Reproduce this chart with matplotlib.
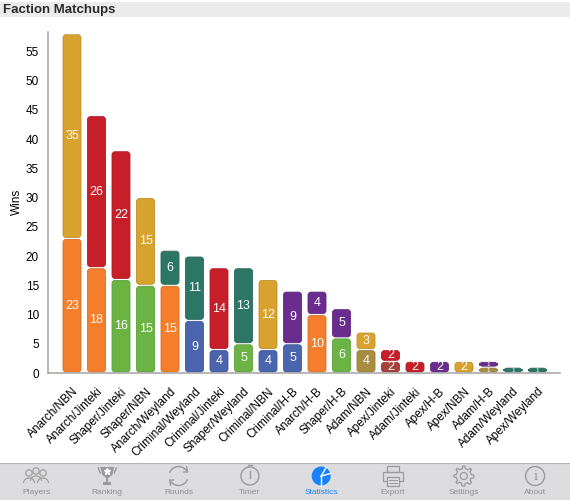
import numpy as np
import matplotlib.pyplot as plt
from matplotlib.patches import FancyBboxPatch, Rectangle, Circle, Arc, Polygon
import matplotlib.colors as mcolors

plt.rcParams['font.family'] = ['Liberation Sans', 'DejaVu Sans']

# Chart data
matchups = ["Anarch/NBN", "Anarch/Jinteki", "Shaper/Jinteki", "Shaper/NBN",
            "Anarch/Weyland", "Criminal/Weyland", "Criminal/Jinteki", "Shaper/Weyland",
            "Criminal/NBN", "Criminal/H-B", "Anarch/H-B", "Shaper/H-B", "Adam/NBN",
            "Apex/Jinteki", "Adam/Jinteki", "Apex/H-B", "Apex/NBN", "Adam/H-B",
            "Adam/Weyland", "Apex/Weyland"]
runner_wins = [23, 18, 16, 15, 15, 9, 4, 5, 4, 5, 10, 6, 4, 2, 0, 0, 0, 1, 0, 0]
corp_wins = [35, 26, 22, 15, 6, 11, 14, 13, 12, 9, 4, 5, 3, 2, 2, 2, 2, 1, 1, 1]
yticks = list(range(0, 56, 5))

faction_colors = {
    "Anarch": "#f47e2b", "Shaper": "#6bb444", "Criminal": "#4a64ae",
    "Adam": "#a88c3f", "Apex": "#a7413d",
    "NBN": "#d8a22f", "Jinteki": "#c61f2a", "Weyland": "#2b7664", "H-B": "#6a2c8e",
}

tabs = ["Players", "Ranking", "Rounds", "Timer", "Statistics", "Export", "Settings", "About"]

W, H = 570, 500
fig = plt.figure(figsize=(W / 100, H / 100), dpi=100)

# background overlay in pixel coordinates
ov = fig.add_axes([0, 0, 1, 1], zorder=-1)
ov.set_xlim(0, W)
ov.set_ylim(H, 0)
ov.axis('off')
ov.add_patch(Rectangle((0, 2), W, 15, fc='#ebebeb', ec='none'))
ov.text(3, 10, "Faction Matchups", fontsize=9.5, fontweight='bold', color='#2a2a2a',
        va='center', ha='left')
ov.add_patch(Rectangle((0, 463), W, 37, fc='#dcdcde', ec='none'))
ov.plot([0, W], [463, 463], color='#b5b5b5', lw=0.8)

# main chart
left, right, top, base = 48, 560, 32, 373
ax = fig.add_axes([left / W, (H - base) / H, (right - left) / W, (base - top) / H])
ax.set_facecolor('none')
pitch = 24.5
ax.set_xlim(-24 / pitch, (right - left - 24) / pitch)
ylim_top = 58.3
ax.set_ylim(0, ylim_top)

px_x = pitch
px_y = (base - top) / ylim_top
bw = 18 / pitch
r = 3 / pitch
gap = 0.17

for i, name in enumerate(matchups):
    runner, corp = name.split('/')
    y0 = 0
    for val, fac in [(runner_wins[i], runner), (corp_wins[i], corp)]:
        if val > 0:
            col = faction_colors[fac]
            edge = tuple(c * 0.88 for c in mcolors.to_rgb(col))
            p = FancyBboxPatch((i - bw / 2, y0 + gap), bw, val - 2 * gap,
                               boxstyle=f"round,pad=0,rounding_size={r}",
                               mutation_aspect=px_x / px_y,
                               fc=col, ec=edge, lw=0.6)
            ax.add_patch(p)
            ax.text(i, y0 + val / 2, str(val), color='white',
                    fontsize=9 if val > 1 else 4.5,
                    ha='center', va='center')
            y0 += val

ax.set_yticks(yticks)
ax.set_xticks(range(len(matchups)))
ax.set_xticklabels(matchups, rotation=45, ha='right', rotation_mode='anchor', fontsize=8.5)
ax.tick_params(axis='x', length=0, pad=9)
ax.tick_params(axis='y', length=0, pad=6.5, labelsize=8.5)
for s in ['top', 'right']:
    ax.spines[s].set_visible(False)
for s in ['left', 'bottom']:
    ax.spines[s].set_color('#aaaaaa')
    ax.spines[s].set_linewidth(1.2)
fig.text(17 / W, 1 - 202 / H, "Wins", rotation=90, fontsize=8.5, ha='center', va='center')

# tab bar
gray = '#9a9a9a'
blue = '#1a82fb'
centers = [36 + 71.3 * k for k in range(len(tabs))]
cy = 476
for k, t in enumerate(tabs):
    ov.text(centers[k], 493, t, fontsize=6, ha='center', va='center',
            color=blue if t == "Statistics" else '#8e8e8e')

# Players
cx = centers[0]
for dx, dy in [(-7, 1), (7, 1), (0, -1)]:
    ov.add_patch(Circle((cx + dx, cy + dy - 4), 3.2, fc='#dcdcde', ec=gray, lw=0.8))
    ov.add_patch(Arc((cx + dx, cy + dy + 6), 11, 10, theta1=180, theta2=360, ec=gray, lw=0.8))
# Ranking
cx = centers[1]
ov.add_patch(Polygon([(cx - 7, cy - 9), (cx + 7, cy - 9), (cx + 5, cy - 1), (cx + 1, cy + 2),
                      (cx - 1, cy + 2), (cx - 5, cy - 1)], fc=gray, ec='none'))
ov.add_patch(Rectangle((cx - 1, cy + 2), 2, 4, fc=gray))
ov.add_patch(Rectangle((cx - 4, cy + 6), 8, 2.5, fc=gray))
ov.plot([cx - 9, cx - 7], [cy - 8, cy - 3], color=gray, lw=1)
ov.plot([cx + 9, cx + 7], [cy - 8, cy - 3], color=gray, lw=1)
ov.plot(cx, cy - 5, marker='*', color='white', ms=5)
# Rounds
cx = centers[2]
ov.add_patch(Arc((cx, cy), 19, 19, theta1=200, theta2=330, ec=gray, lw=1))
ov.add_patch(Arc((cx, cy), 19, 19, theta1=20, theta2=150, ec=gray, lw=1))
ov.plot([cx + 8, cx + 9, cx + 5], [cy - 9, cy - 4, cy - 4], color=gray, lw=1)
ov.plot([cx - 8, cx - 9, cx - 5], [cy + 9, cy + 4, cy + 4], color=gray, lw=1)
# Timer
cx = centers[3]
ov.add_patch(Circle((cx, cy), 9, fc='none', ec=gray, lw=1))
ov.plot([cx, cx], [cy - 5, cy + 2], color=gray, lw=1)
ov.plot([cx - 2, cx + 2], [cy - 11, cy - 11], color=gray, lw=1)
# Statistics
cx = centers[4]
ov.add_patch(Circle((cx, cy), 9.5, fc=blue, ec='none'))
for ang in [-90, 15, 60]:
    a = np.radians(ang)
    ov.plot([cx, cx + 9.5 * np.cos(a)], [cy, cy - 9.5 * np.sin(a)], color='white', lw=1)
# Export
cx = centers[5]
ov.add_patch(Rectangle((cx - 6, cy - 10), 12, 6, fc='none', ec=gray, lw=0.9))
ov.add_patch(Rectangle((cx - 10, cy - 4), 20, 9, fc='none', ec=gray, lw=0.9))
ov.add_patch(Rectangle((cx - 6, cy + 1), 12, 9, fc='#dcdcde', ec=gray, lw=0.9))
ov.plot([cx - 4, cx + 4], [cy + 4, cy + 4], color=gray, lw=0.7)
ov.plot([cx - 4, cx + 4], [cy + 7, cy + 7], color=gray, lw=0.7)
# Settings
cx = centers[6]
angs = np.linspace(0, 2 * np.pi, 65)
rad = np.where(np.cos(8 * angs) > 0, 10, 7.5)
ov.add_patch(Polygon(np.column_stack([cx + rad * np.cos(angs), cy + rad * np.sin(angs)]),
                     fc='none', ec=gray, lw=0.9))
ov.add_patch(Circle((cx, cy), 3.5, fc='none', ec=gray, lw=0.9))
# About
cx = centers[7]
ov.add_patch(Circle((cx, cy), 9.5, fc='none', ec=gray, lw=1))
ov.text(cx, cy + 1, "i", family='DejaVu Serif', fontsize=9, color=gray, ha='center', va='center')

fig.savefig("out.png", dpi=100)
